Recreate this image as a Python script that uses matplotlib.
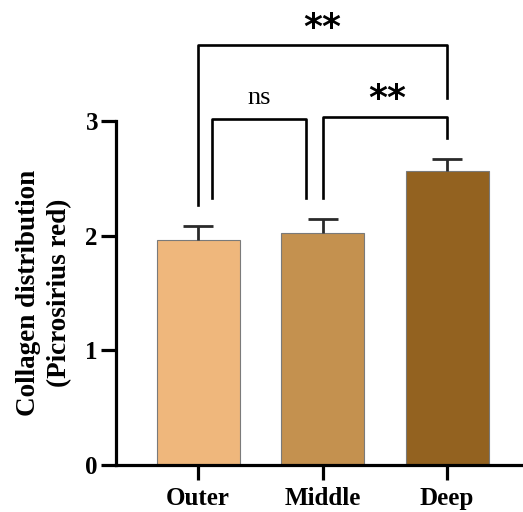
import matplotlib.pyplot as plt

groups = ["Outer", "Middle", "Deep"]
means = [1.96, 2.02, 2.56]
sems = [0.125, 0.125, 0.11]
colors = ["#EFB77C", "#C4914F", "#936220"]

# significance brackets: (x_left, x_right, y_top, y_left_end, y_right_end)
brackets = [
    (0.11, 0.87, 3.02, 2.33, 2.33),
    (1.0, 2.0, 3.03, 2.33, 2.85),
    (0.0, 2.0, 3.66, 2.27, 3.20),
]
# labels: (x, y, text)
sig_labels = [
    (0.49, 3.20, "ns"),
    (1.52, 3.19, "**"),
    (1.0, 3.81, "**"),
]

plt.rcParams['font.family'] = ['Liberation Serif', 'DejaVu Serif']

fig = plt.figure(figsize=(5.23, 5.12), dpi=100)
ax = fig.add_axes([0.2218, 0.0918, 0.7782, 0.8962])

x = list(range(len(groups)))
ax.bar(x, means, width=0.667, color=colors, edgecolor="#7a7a7a", linewidth=0.8, zorder=2)
eb = ax.errorbar(x, means, yerr=[[0] * 3, sems], fmt="none", ecolor="#2a2a2a",
                 elinewidth=2, capsize=11, capthick=2, zorder=3)
eb[1][0].set_visible(False)

ax.set_xlim(-0.66, 2.61)
ax.set_ylim(0, 4.0)
ax.set_yticks([0, 1, 2, 3])
ax.spines['left'].set_bounds(0, 3)
ax.spines['top'].set_visible(False)
ax.spines['right'].set_visible(False)
for s in ['left', 'bottom']:
    ax.spines[s].set_linewidth(2.3)
ax.tick_params(axis='both', width=2.3, length=11, labelsize=18)
ax.set_xticks(x)
ax.set_xticklabels(groups, fontweight='bold', fontsize=18)
for lab in ax.get_yticklabels():
    lab.set_fontweight('bold')
ax.tick_params(axis='x', pad=5)
ax.tick_params(axis='y', pad=2)

fig.text(44 / 523, 0.428, "Collagen distribution\n(Picrosirius red)", rotation=90,
         ha='center', va='center', fontweight='bold', fontsize=19.5, linespacing=1.3)

for xl, xr, yt, yl, yr in brackets:
    ax.plot([xl, xl, xr, xr], [yl, yt, yt, yr], color="black", lw=1.9,
            clip_on=False, zorder=4)
for tx, ty, lab in sig_labels:
    if lab == "ns":
        ax.text(tx, ty, lab, ha='center', va='center', fontsize=19)
    else:
        ax.text(tx, ty, lab, ha='center', va='center', fontsize=26,
                fontweight='bold', family='DejaVu Sans')

fig.savefig("out.png", dpi=100)
